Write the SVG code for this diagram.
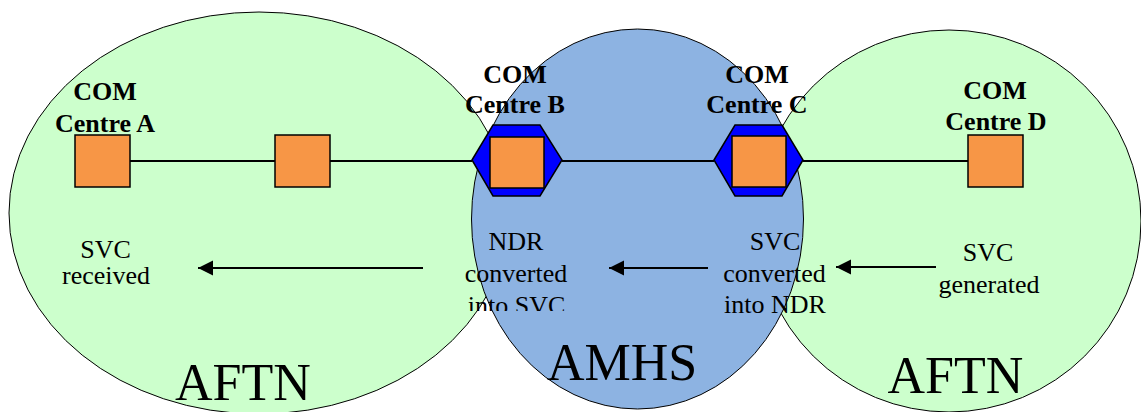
<svg xmlns="http://www.w3.org/2000/svg" width="1141" height="412" viewBox="0 0 1141 412">
<style>
.net{fill:#CCFFCC;stroke:#000;stroke-width:1}
.amhs{fill:#8DB3E2;stroke:#000;stroke-width:1}
.box{fill:#F79646;stroke:#000;stroke-width:1.5}
.hex{fill:#0000FF;stroke:#000;stroke-width:1.5}
.ln{stroke:#000;stroke-width:2;fill:none}
.arr{stroke:#000;stroke-width:2;fill:none;marker-end:url(#ah)}
.b{font-family:"Liberation Serif","Times New Roman",serif;font-weight:bold;font-size:26px;text-anchor:middle;fill:#000}
.t{font-family:"Liberation Serif","Times New Roman",serif;font-size:26px;text-anchor:middle;fill:#000}
.big{font-family:"Liberation Serif","Times New Roman",serif;font-size:52px;fill:#000}
</style>
<defs>
<marker id="ah" markerWidth="16" markerHeight="16" refX="15" refY="7.5" orient="auto" markerUnits="userSpaceOnUse">
<path d="M0,0 L15,7.5 L0,15 Z" fill="#000"/>
</marker>
<clipPath id="clipB"><rect x="440" y="220" width="150" height="91"/></clipPath>
<clipPath id="clipD"><rect x="920" y="220" width="140" height="78"/></clipPath>
</defs>
<g id="aftn-left"><ellipse class="net" cx="259" cy="213" rx="250" ry="201"/></g>
<g id="aftn-right"><ellipse class="net" cx="949" cy="221" rx="192" ry="191"/></g>
<g id="amhs"><ellipse class="amhs" cx="637.5" cy="219" rx="166" ry="190"/></g>
<g id="connectors">
<line class="ln" x1="130" y1="161" x2="275" y2="161"/>
<line class="ln" x1="330" y1="161" x2="472" y2="161"/>
<line class="ln" x1="562" y1="161" x2="714" y2="161"/>
<line class="ln" x1="803" y1="161" x2="968" y2="161"/>
<line class="arr" x1="423" y1="268" x2="198" y2="268"/>
<line class="arr" x1="708" y1="268" x2="609" y2="268"/>
<line class="arr" x1="936" y1="267" x2="836" y2="267"/>
</g>
<g id="centre-a">
<rect class="box" x="75" y="135" width="55" height="52"/>
<text class="b" x="105" y="100">COM</text>
<text class="b" x="105" y="132">Centre A</text>
</g>
<g id="relay">
<rect class="box" x="275" y="135" width="55" height="52"/>
</g>
<g id="centre-b">
<polygon class="hex" points="472,160 493,125 540,125 562,160 540,196 493,196"/>
<rect class="box" x="490" y="137" width="54" height="51"/>
<text class="b" x="515" y="83">COM</text>
<text class="b" x="515" y="113">Centre B</text>
</g>
<g id="centre-c">
<polygon class="hex" points="714,160 735,125 782,125 803,160 782,196 735,196"/>
<rect class="box" x="732" y="136" width="54" height="51"/>
<text class="b" x="757" y="83">COM</text>
<text class="b" x="757" y="113">Centre C</text>
</g>
<g id="centre-d">
<rect class="box" x="968" y="135" width="55" height="52"/>
<text class="b" x="995" y="99">COM</text>
<text class="b" x="996" y="130">Centre D</text>
</g>
<g id="labels">
<text class="t" x="105.5" y="258">SVC</text>
<text class="t" x="106" y="284">received</text>
<g clip-path="url(#clipB)">
<text class="t" x="516" y="250">NDR</text>
<text class="t" x="516" y="281.5">converted</text>
<text class="t" x="516.5" y="314">into SVC</text>
</g>
<text class="t" x="775" y="250">SVC</text>
<text class="t" x="774.5" y="281.5">converted</text>
<text class="t" x="775" y="313">into NDR</text>
<g clip-path="url(#clipD)">
<text class="t" x="988" y="261">SVC</text>
<text class="t" x="989" y="292.5">generated</text>
</g>
<text class="big" x="175" y="400">AFTN</text>
<text class="big" x="887.5" y="393">AFTN</text>
<text class="big" x="547" y="380">AMHS</text>
</g>
</svg>
